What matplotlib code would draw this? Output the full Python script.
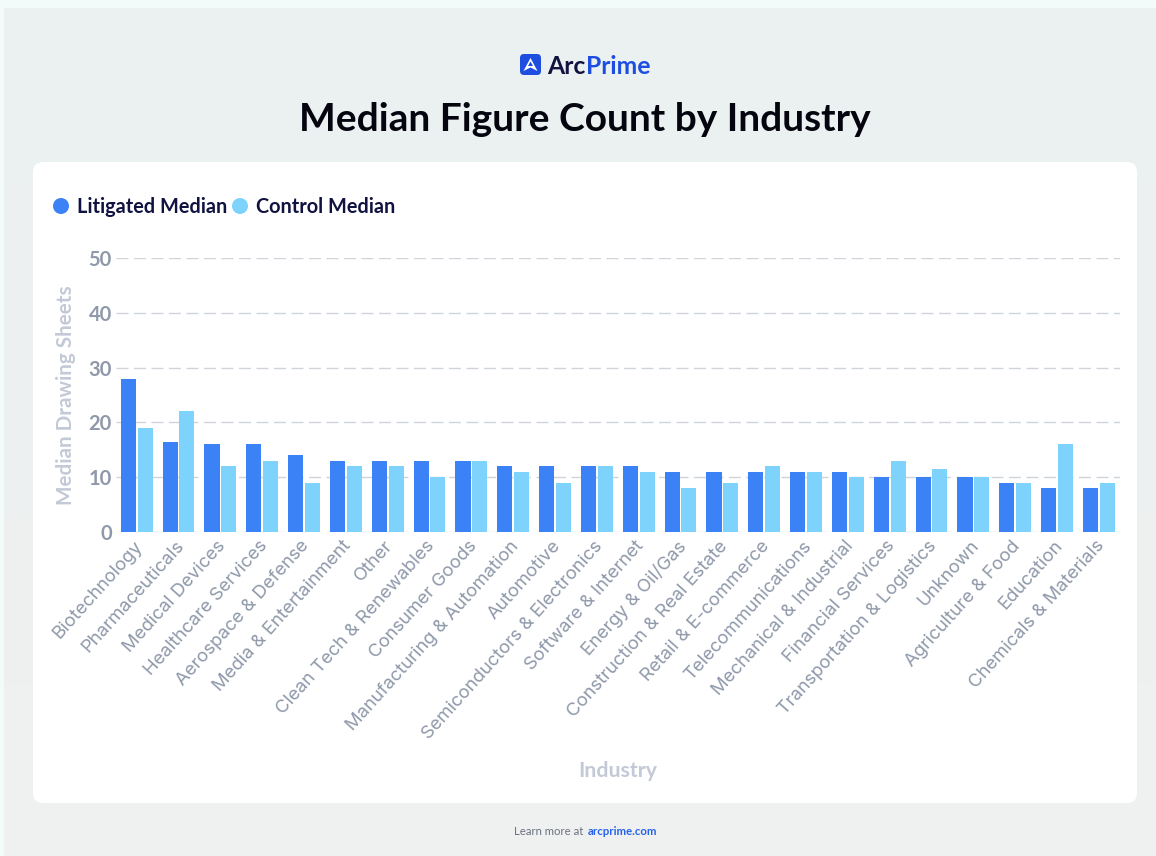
import numpy as np
import matplotlib
matplotlib.use("Agg")
import matplotlib.pyplot as plt
from matplotlib.patches import FancyBboxPatch, Polygon, Circle, Rectangle
from matplotlib.transforms import ScaledTranslation

industries = ["Biotechnology", "Pharmaceuticals", "Medical Devices", "Healthcare Services",
              "Aerospace & Defense", "Media & Entertainment", "Other", "Clean Tech & Renewables",
              "Consumer Goods", "Manufacturing & Automation", "Automotive",
              "Semiconductors & Electronics", "Software & Internet", "Energy & Oil/Gas",
              "Construction & Real Estate", "Retail & E-commerce", "Telecommunications",
              "Mechanical & Industrial", "Financial Services", "Transportation & Logistics",
              "Unknown", "Agriculture & Food", "Education", "Chemicals & Materials"]
litigated = [28, 16.5, 16, 16, 14, 13, 13, 13, 13, 12, 12, 12, 12, 11, 11, 11, 11, 11, 10, 10, 10, 9, 8, 8]
control = [19, 22, 12, 13, 9, 12, 12, 10, 13, 11, 9, 12, 11, 8, 9, 12, 11, 10, 13, 11.5, 10, 9, 16, 9]
y_ticks = [0, 10, 20, 30, 40, 50]

W, H = 1156, 856
BLUE, SKY = "#3b82f6", "#7dd3fc"
NAVY, GREY, PALE = "#10123f", "#8f99aa", "#c3c9d6"
BRAND = "#1d4ee0"
plt.rcParams["font.family"] = ["Lato", "DejaVu Sans"]

fig = plt.figure(figsize=(W / 100, H / 100), dpi=100)

# Page backdrop and white card, laid out in pixel coordinates
bg = fig.add_axes([0, 0, 1, 1], zorder=0)
bg.axis("off")
bg.add_patch(Rectangle((0, 0), W, H, color="#f3fbfa", lw=0))
top = np.array([235, 240, 240]) / 255
bot = np.array([240, 240, 241]) / 255
grad = top + (bot - top) * np.linspace(0, 1, 256)[:, None]
bg.imshow(grad[:, None, :], extent=(4, W, H, 8), aspect="auto", zorder=1)
bg.set_xlim(0, W)
bg.set_ylim(H, 0)
bg.add_patch(FancyBboxPatch((33, 162), 1104, 641, boxstyle="round,pad=0,rounding_size=10", lw=0, fc="white", zorder=2))

# Brand mark
bg.add_patch(FancyBboxPatch((520, 54), 21, 21, boxstyle="round,pad=0,rounding_size=4", lw=0, fc=BRAND, zorder=3))
bg.add_patch(Polygon([[530.5, 58], [537.5, 71], [530.5, 67.5], [523.5, 71]], closed=True, fc="white", lw=0, zorder=4))
bg.add_patch(Polygon([[530.5, 61.5], [533, 66], [528, 66]], closed=True, fc=BRAND, lw=0, zorder=5))
arc = bg.text(547.5, 66, "Arc", fontsize=17.8, fontweight="bold", color=NAVY, va="center", ha="left", zorder=5)
fig.canvas.draw()
inv = bg.transData.inverted()
arc_end = inv.transform((arc.get_window_extent().x1, 0))[0]
bg.text(arc_end + 0.5, 66, "Prime", fontsize=17.8, fontweight="bold", color=BRAND, va="center", ha="left", zorder=5)

bg.text(585, 119.5, "Median Figure Count by Industry", fontsize=28, fontweight="bold", color="#050510",
        ha="center", va="center", zorder=5)

# Legend row
bg.add_patch(Circle((61, 206), 8, fc=BLUE, lw=0, zorder=5))
bg.text(77, 206.5, "Litigated Median", fontsize=14.3, fontweight="bold", color=NAVY, va="center", zorder=5)
bg.add_patch(Circle((240, 206), 8, fc=SKY, lw=0, zorder=5))
bg.text(256, 206.5, "Control Median", fontsize=14.3, fontweight="bold", color=NAVY, va="center", zorder=5)

# Footer
foot = bg.text(514, 831.5, "Learn more at ", fontsize=8.2, color="#6b7280", va="center", zorder=5)
fig.canvas.draw()
foot_end = inv.transform((foot.get_window_extent().x1, 0))[0]
bg.text(foot_end + 1, 831.5, "arcprime.com", fontsize=8.2, fontweight="bold", color="#2563eb",
        va="center", zorder=5)

# Bar chart
left, right, y0, y50 = 116, 1120, 532, 258
ax = fig.add_axes([left / W, 1 - y0 / H, (right - left) / W, (y0 - y50) / H], zorder=3)
ax.patch.set_alpha(0)
x = np.arange(len(industries))
bar_w = 0.36
ax.bar(x - 0.205, litigated, bar_w, color=BLUE, zorder=3)
ax.bar(x + 0.195, control, bar_w, color=SKY, zorder=3)
ax.set_xlim(-0.5, len(industries) - 0.5)
ax.set_ylim(0, 50)
ax.set_yticks(y_ticks)
ax.set_xticks(x)
ax.set_xticklabels(industries, rotation=48, ha="right", va="top", rotation_mode="anchor",
                   fontsize=13.3, color=GREY, family=["Inter", "DejaVu Sans"])
ax.tick_params(axis="x", length=0, pad=4)
ax.tick_params(axis="y", length=0, pad=3, labelsize=14.5, labelcolor=GREY)
# Nudge the slanted category names left so they end under their bars
nudge = ScaledTranslation(-4 / 100, 0, fig.dpi_scale_trans)
for lab in ax.get_xticklabels():
    lab.set_transform(lab.get_transform() + nudge)
for lab in ax.get_yticklabels():
    lab.set_fontweight("bold")
ax.grid(axis="y", color="#cfd3da", lw=1.0, linestyle=(0, (8.6, 4)), zorder=0)
ax.set_axisbelow(True)
for s in ax.spines.values():
    s.set_visible(False)

bg.text(66, 395, "Median Drawing Sheets", rotation=90, fontsize=14.9, fontweight="bold", color=PALE,
        ha="center", va="center", zorder=5)
bg.text(618, 771, "Industry", fontsize=15.3, fontweight="bold", color=PALE, ha="center", va="center", zorder=5)

fig.savefig("out.png", dpi=100)
